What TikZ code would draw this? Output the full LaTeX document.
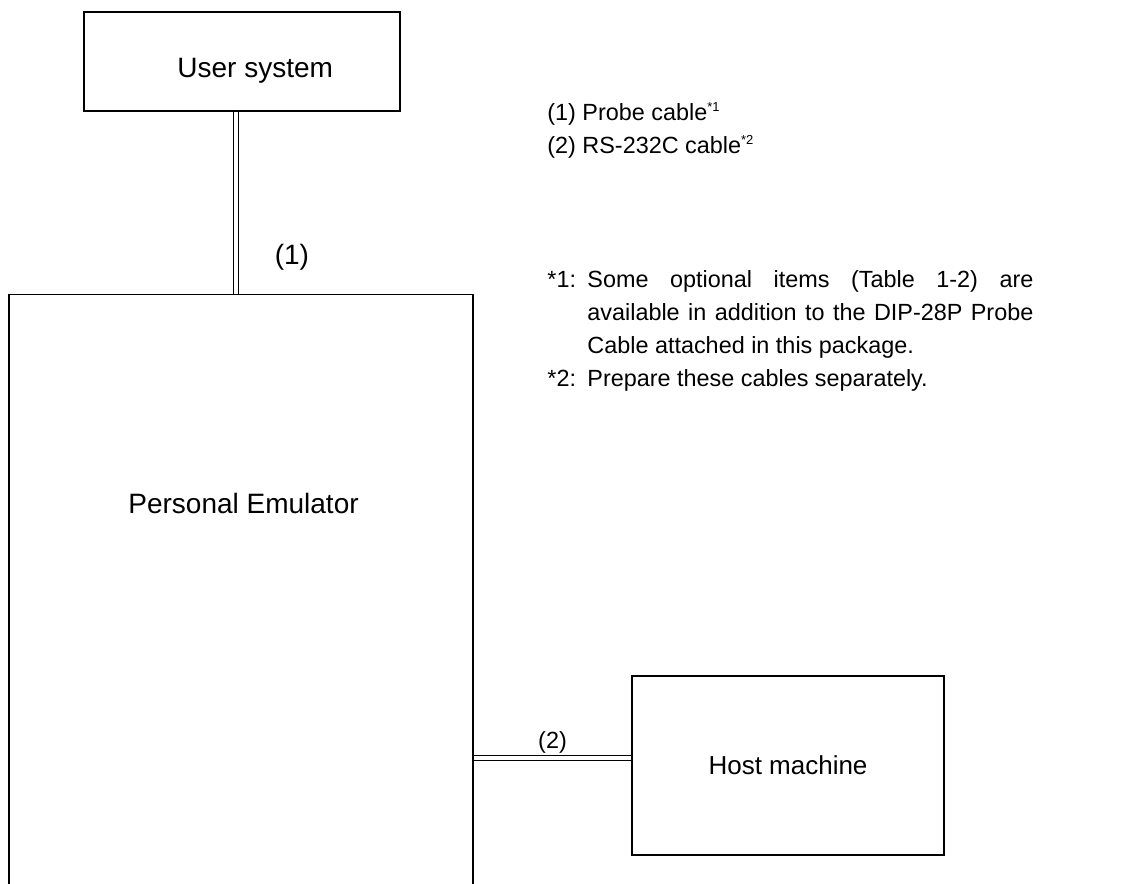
\documentclass[tikz,border=0pt]{standalone}
\usepackage{fontspec}
\setmainfont{Liberation Sans}
\usetikzlibrary{positioning, calc}

\newcommand{\bigtext}{\fontsize{14}{16.5}\selectfont}
\newcommand{\midtext}{\fontsize{13}{16.5}\selectfont}
\newcommand{\notetext}{\fontsize{11.7}{16.5}\selectfont}
\newcommand{\notemark}[1]{\textsuperscript{\fontsize{6.5}{7}\selectfont #1}}

\begin{document}
\begin{tikzpicture}[x=0.5pt, y=-0.5pt, font=\notetext]

\tikzset{
  unit box/.style={draw, line width=0.6pt, inner sep=0pt},
  cable/.style={double, double distance=2pt, line width=0.5pt},
  plain text/.style={inner sep=0pt, anchor=base west}
}

\useasboundingbox (0,0) rectangle (1139,883);

% units
\node[unit box, minimum width=158pt, minimum height=49.5pt] (user) at (242,61.5) {};
\node[plain text, font=\bigtext] (usertext) at (177,78) {User system};

\node[unit box, minimum width=232pt, minimum height=305pt] (emu) at (241,599.5) {};
\node[plain text, font=\bigtext] (emutext) at (128,513) {Personal Emulator};

\node[unit box, minimum width=156pt, minimum height=89.5pt, font=\midtext] (host) at (788,765.5) {Host machine};

% cables
\draw[cable] ([xshift=-2.85pt]user.south) -- ([xshift=-2.85pt]user.south |- emu.north)
  node[pos=0.8, right=19pt, inner sep=0pt, font=\bigtext] (probe) {(1)};
\draw[cable] ([yshift=4pt]host.west) -- ([yshift=4pt]host.west -| emu.east)
  node[midway, above, inner sep=2pt] (rs232) {(2)};

% legend and notes
\node[plain text, align=left] (legend) at (547,153)
  {(1) Probe cable\notemark{*1}\\(2) RS-232C cable\notemark{*2}};

\node[plain text, text width=243pt, align=justify] (notes) at (547,287) {%
  \hyphenpenalty=10000 \exhyphenpenalty=10000
  \hangindent=20pt \hangafter=1 \makebox[20pt][l]{*1:}Some optional items (Table 1-2) are available in addition to the DIP-28P Probe Cable attached in this package.\par
  \hangindent=20pt \hangafter=1 \makebox[20pt][l]{*2:}Prepare these cables separately.};

\end{tikzpicture}
\end{document}
